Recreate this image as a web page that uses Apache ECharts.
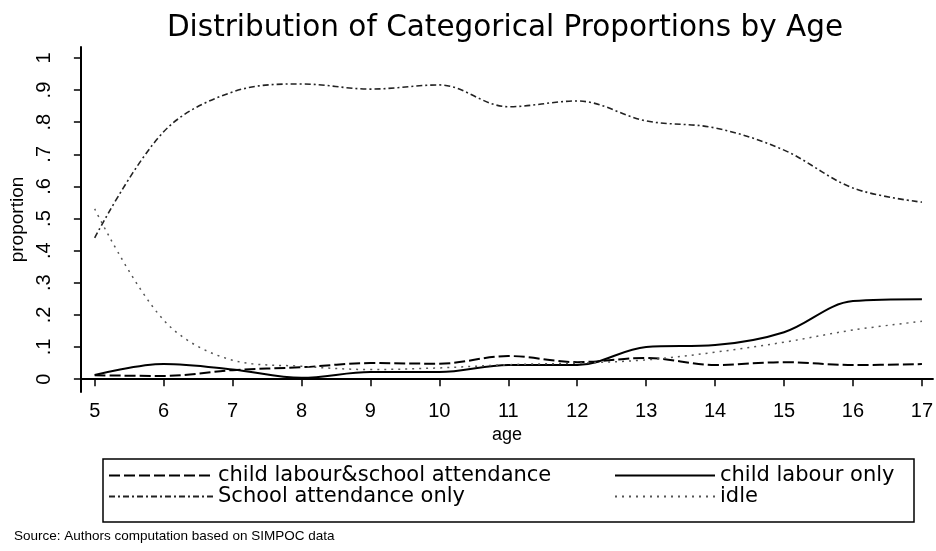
<!DOCTYPE html>
<html>
<head>
<meta charset="utf-8">
<script src="https://cdn.jsdelivr.net/npm/echarts@6/dist/echarts.min.js"></script>
<style>html,body{margin:0;padding:0;background:#fff}#c{width:936px;height:551px}</style>
</head>
<body>
<div id="c"></div>
<script>
const ages = [5,6,7,8,9,10,11,12,13,14,15,16,17];
const clsa = [0.012,0.010,0.028,0.037,0.050,0.048,0.072,0.053,0.066,0.044,0.053,0.044,0.047];
const clOnly = [0.013,0.047,0.030,0.004,0.022,0.022,0.044,0.044,0.100,0.106,0.146,0.243,0.249];
const schoolOnly = [0.44,0.77,0.894,0.919,0.903,0.916,0.848,0.866,0.804,0.782,0.713,0.595,0.551];
const idle = [0.53,0.184,0.059,0.040,0.030,0.035,0.045,0.050,0.060,0.084,0.115,0.153,0.180];
const yTicks = [0,0.1,0.2,0.3,0.4,0.5,0.6,0.7,0.8,0.9,1];
const yTickLabels = ['0','.1','.2','.3','.4','.5','.6','.7','.8','.9','1'];
const names = ['child labour&school attendance','child labour only','School attendance only','idle'];

const pairs = a => ages.map((x,i)=>[x,a[i]]);
const chart = echarts.init(document.getElementById('c'), null, {renderer:'canvas'});
const axisFont = 'Liberation Sans';
const legendCommon = {orient:'vertical',top:460,itemHeight:18,itemGap:0,
  itemStyle:{opacity:0},
  textStyle:{fontFamily:'DejaVu Sans',fontSize:21,color:'#000'}};
chart.setOption({
  animation:false,
  backgroundColor:'#fff',
  title:{text:'Distribution of Categorical Proportions by Age',left:500,textAlign:'center',top:8,
    textStyle:{fontFamily:'DejaVu Sans',fontSize:29.5,fontWeight:'normal',color:'#000'}},
  grid:{left:77,right:0,top:47,bottom:159},
  xAxis:{type:'value',min:4.8,max:17.16,
    name:'age',nameLocation:'middle',nameGap:33,
    nameTextStyle:{fontFamily:axisFont,fontSize:18,color:'#000'},
    axisLine:{show:true,lineStyle:{color:'#000',width:2}},
    axisTick:{show:true,length:7,lineStyle:{color:'#000',width:1.5},customValues:ages},
    axisLabel:{customValues:ages,fontFamily:axisFont,fontSize:20,color:'#000',margin:9},
    splitLine:{show:false}},
  yAxis:{type:'value',min:-0.04,max:1.034,
    name:'proportion',nameLocation:'middle',nameGap:52,nameRotate:90,
    nameTextStyle:{fontFamily:axisFont,fontSize:19,color:'#000'},
    axisLine:{show:true,lineStyle:{color:'#000',width:2}},
    axisTick:{show:true,length:7,lineStyle:{color:'#000',width:1.5},customValues:yTicks},
    axisLabel:{customValues:yTicks,rotate:90,fontFamily:axisFont,fontSize:20,color:'#000',margin:26,
      formatter:v=>{const i=yTicks.findIndex(t=>Math.abs(t-v)<1e-6);return i>=0?yTickLabels[i]:'';}},
    splitLine:{show:false}},
  legend:[
    Object.assign({data:[names[0],names[2]],left:103,itemWidth:104}, legendCommon),
    Object.assign({data:[names[1],names[3]],left:609,itemWidth:100}, legendCommon)
  ],
  graphic:[
    {type:'rect',shape:{x:103,y:459,width:811,height:63},style:{fill:'none',stroke:'#000',lineWidth:1.5},silent:true,z:-1},
    {type:'text',left:14,top:529,style:{text:'Source: Authors computation based on SIMPOC data',font:'13.5px "Liberation Sans"',fill:'#000'}}
  ],
  series:[
    {name:names[0],type:'line',data:pairs(clsa),smooth:0.35,symbol:'none',
      lineStyle:{color:'#000',width:2,type:[11,4]},itemStyle:{color:'#000'}},
    {name:names[1],type:'line',data:pairs(clOnly),smooth:0.35,symbol:'none',
      lineStyle:{color:'#000',width:2,type:'solid'},itemStyle:{color:'#000'}},
    {name:names[2],type:'line',data:pairs(schoolOnly),smooth:0.35,symbol:'none',
      lineStyle:{color:'#222',width:1.6,type:[6,3,2,3]},itemStyle:{color:'#222'}},
    {name:names[3],type:'line',data:pairs(idle),smooth:0.35,symbol:'none',
      lineStyle:{color:'#555',width:1.5,type:[2,5]},itemStyle:{color:'#555'}}
  ]
});
</script>
</body>
</html>
